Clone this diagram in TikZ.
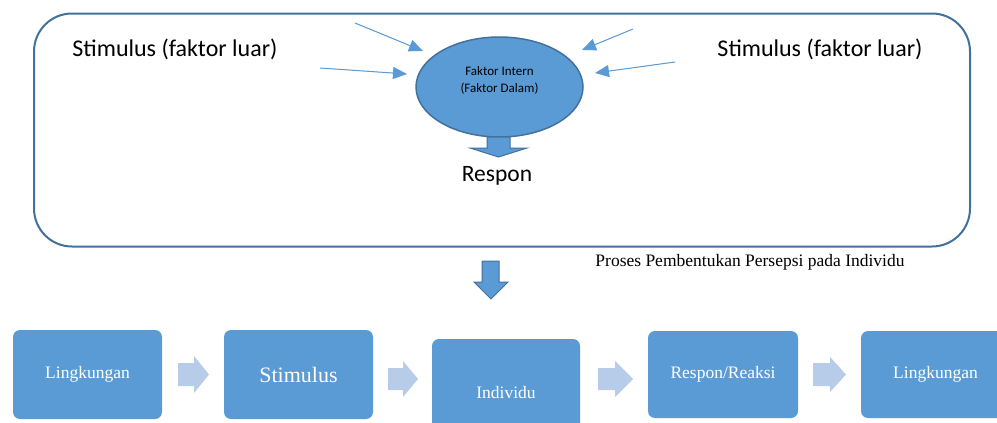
\documentclass[tikz,border=0pt]{standalone}
\usepackage{fontspec}
\setmainfont{Liberation Serif}
\newfontfamily\califont{Carlito}
\usetikzlibrary{arrows.meta,shapes.geometric}
\definecolor{fillblue}{HTML}{5B9BD5}
\definecolor{edgeblue}{HTML}{41719C}
\definecolor{paleblue}{HTML}{B7CCE9}
\tikzset{
  x=1pt, y=-1pt,
  outerbox/.style={draw=edgeblue, line width=2pt, rounded corners=38pt, minimum width=936pt, minimum height=233pt, inner sep=0pt},
  calitext/.style={font=\califont\fontsize{24}{28}\selectfont, text=black, inner sep=0pt},
  thinarrow/.style={draw=fillblue, line width=1pt, -{Triangle[length=14pt,width=12pt]}, fill=fillblue},
  stepbox/.style={fill=fillblue, rounded corners=7pt, inner sep=0pt, text=white, font=\fontsize{17.5}{20}\selectfont},
  blockarrow/.style={fill=fillblue, draw=edgeblue, line width=1pt, line join=miter},
  chevron/.style={fill=paleblue}
}
\begin{document}
\begin{tikzpicture}
\clip (0,0) rectangle (997,423);
\fill[white] (0,0) rectangle (997,423);
% outer rounded frame
\node[outerbox] (outer) at (502,130) {};
% central ellipse
\node[ellipse, fill=fillblue, draw=edgeblue, line width=1.5pt, minimum width=167pt, minimum height=100pt, inner sep=0pt] (intern) at (499.5,87) {};
\node[font=\califont\fontsize{13}{14}\selectfont, inner sep=0pt] (t1) at (499.5,71) {Faktor Intern};
\node[font=\califont\fontsize{13}{14}\selectfont, inner sep=0pt] (t2) at (499.5,89) {(Faktor Dalam)};
% stimulus texts
\node[calitext] (stimL) at (175,49) {Stimulus (faktor luar)};
\node[calitext] (stimR) at (820,49) {Stimulus (faktor luar)};
% thin arrows
\coordinate (a1s) at (355,23); \coordinate (a1e) at (423,51);
\coordinate (a2s) at (320,68); \coordinate (a2e) at (407,74);
\coordinate (a3s) at (633,29); \coordinate (a3e) at (582,50);
\coordinate (a4s) at (675,62); \coordinate (a4e) at (595,73);
\draw[thinarrow] (a1s) -- (a1e);
\draw[thinarrow] (a2s) -- (a2e);
\draw[thinarrow] (a3s) -- (a3e);
\draw[thinarrow] (a4s) -- (a4e);
% small block arrow under ellipse
\draw[blockarrow] (487,137) -- (510,137) -- (510,148) -- (527,148) -- (498.5,157) -- (470,148) -- (487,148) -- cycle;
\node[calitext, font=\califont\fontsize{23.5}{28}\selectfont] (respon) at (497,176) {Respon};
% caption
\node[font=\fontsize{17.5}{20}\selectfont, inner sep=0pt] (caption) at (750,262) {Proses Pembentukan Persepsi pada Individu};
% big down arrow
\draw[blockarrow] (482,261) -- (499,261) -- (499,282) -- (508,282) -- (491,299) -- (474,282) -- (482,282) -- cycle;
% bottom step boxes
\node[stepbox, minimum width=149pt, minimum height=89pt] (b1) at (87.5,374.5) {Lingkungan};
\node[stepbox, minimum width=149pt, minimum height=89pt, font=\fontsize{22}{24}\selectfont] (b2) at (298.5,374.5) {Stimulus};
\node[stepbox, minimum width=148pt, minimum height=108pt] (b3) at (506,393) {Individu};
\node[stepbox, minimum width=150pt, minimum height=87pt] (b4) at (723,374.5) {Respon/Reaksi};
\node[stepbox, minimum width=149pt, minimum height=87pt] (b5) at (935.5,374.5) {Lingkungan};
% chevron arrows
\fill[chevron] (178,363) -- (194,363) -- (194,356) -- (209,374.5) -- (194,393) -- (194,386) -- (178,386) -- cycle;
\fill[chevron] (388,368) -- (403,368) -- (403,361) -- (418,379) -- (403,397) -- (403,390) -- (388,390) -- cycle;
\fill[chevron] (598,368) -- (615,368) -- (615,361) -- (633,379) -- (615,397) -- (615,390) -- (598,390) -- cycle;
\fill[chevron] (813,363) -- (830,363) -- (830,357) -- (846,374.5) -- (830,392) -- (830,386) -- (813,386) -- cycle;
\end{tikzpicture}
\end{document}
